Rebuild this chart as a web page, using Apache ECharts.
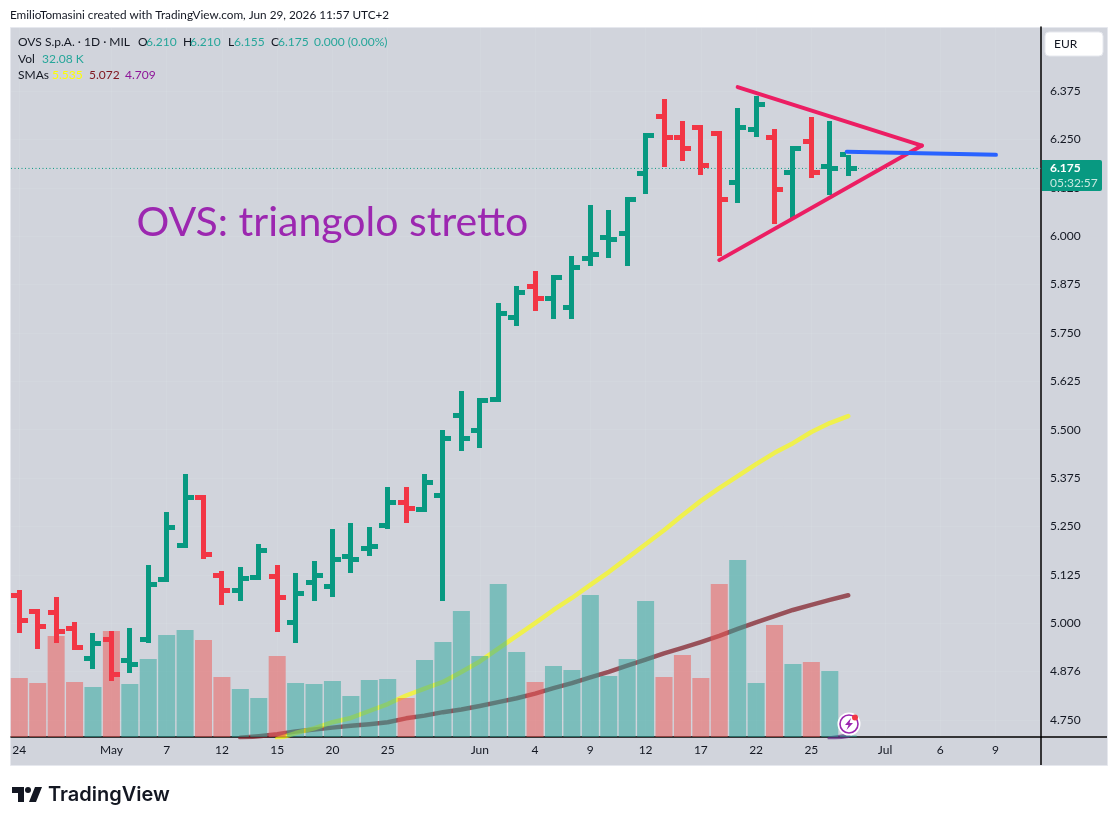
<!DOCTYPE html>
<html><head><meta charset="utf-8">
<style>html,body{margin:0;padding:0;background:#fff}#c{width:1117px;height:825px}</style>
<script src="https://cdn.jsdelivr.net/npm/echarts@6/dist/echarts.min.js"></script>
</head><body><div id="c"></div>
<script>
const opens=[5.072,5.031,5.028,4.987,4.909,4.958,4.904,4.958,5.113,5.201,5.325,5.124,5.085,5.118,5.121,5.002,5.105,5.095,5.173,5.193,5.253,5.312,5.294,5.330,5.537,5.498,5.578,5.790,5.870,5.839,5.816,5.943,5.997,6.007,6.162,6.310,6.255,6.281,6.266,6.139,6.276,6.255,6.165,6.245,6.180,6.210];
const highs=[5.086,5.037,5.067,5.003,4.975,4.980,4.987,5.150,5.287,5.385,5.331,5.135,5.145,5.204,5.150,5.130,5.160,5.243,5.259,5.248,5.352,5.352,5.385,5.499,5.600,5.582,5.827,5.871,5.910,5.900,5.949,6.080,6.068,6.101,6.266,6.354,6.298,6.287,6.272,6.331,6.362,6.277,6.233,6.308,6.298,6.210];
const lows=[4.975,4.933,4.949,4.931,4.881,4.850,4.871,4.949,5.106,5.194,5.166,5.047,5.057,5.111,4.977,4.949,5.057,5.067,5.130,5.173,5.243,5.259,5.287,5.057,5.445,5.453,5.571,5.768,5.807,5.786,5.786,5.923,5.943,5.923,6.109,6.179,6.194,6.158,5.949,6.086,6.256,6.031,6.047,6.150,6.106,6.155];
const closes=[5.007,4.992,4.979,4.938,4.948,4.868,4.894,5.100,5.248,5.325,5.178,5.085,5.116,5.188,5.067,5.077,5.124,5.165,5.165,5.198,5.312,5.297,5.364,5.478,5.478,5.576,5.801,5.855,5.839,5.894,5.919,5.953,5.992,6.095,6.261,6.255,6.227,6.183,6.095,6.281,6.341,6.121,6.227,6.165,6.175,6.175];
// volume in thousands of shares
const volumes=[1180,1080,2020,1100,1000,2120,1060,1560,2040,2140,1940,1200,960,780,1620,1080,1060,1120,820,1140,1160,780,1540,1900,2520,1620,3060,1700,1100,1420,1340,2840,1220,1560,2720,1200,1640,1180,3060,3540,1080,2240,1460,1500,1320,32.08];
// moving averages, first value at bar index given by the *Start constant
const smaYellowStart=14;
const smaYellow=[4.701,4.716,4.728,4.744,4.755,4.773,4.791,4.813,4.831,4.848,4.874,4.901,4.934,4.967,5.000,5.034,5.065,5.099,5.132,5.168,5.204,5.240,5.279,5.316,5.349,5.380,5.411,5.440,5.465,5.494,5.517,5.535];
const smaRedStart=12;
const smaRed=[4.704,4.708,4.713,4.720,4.725,4.730,4.735,4.739,4.744,4.754,4.761,4.770,4.777,4.786,4.796,4.806,4.818,4.832,4.845,4.860,4.874,4.890,4.906,4.922,4.936,4.951,4.967,4.985,5.002,5.018,5.034,5.047,5.060,5.072];
const smaPurpleStart=44;
const smaPurple=[4.702,4.709];
const xTickIndex=[0,5,8,11,14,17,20,25,28,31,34,37,40,43,47,50,53];
const xTickLabels=['24','May','7','12','15','20','25','Jun','4','9','12','17','22','25','Jul','6','9'];
const yTicks=[4.75,4.875,5,5.125,5.25,5.375,5.5,5.625,5.75,5.875,6,6.125,6.25,6.375];
const yTickLabels=['4.750','4.876','5.000','5.125','5.250','5.375','5.500','5.625','5.750','5.875','6.000','6.125','6.250','6.375'];
const triangleUpper=[[39,6.385],[49,6.234]];
const triangleLower=[[38,5.938],[49,6.234]];
const blueLine=[[44.92,6.218],[53.02,6.210]];
const lastPrice=6.175;
const annotation=[[6.36,6.035,'OVS: triangolo stretto']];

const UP='#089981',DOWN='#F23645',UI='Lato,"Noto Sans",sans-serif',INK='#131722';
const dirs=closes.map((c,i)=>i===0?-1:(c>=closes[i-1]?1:-1));
const pairs=(arr,start)=>arr.map((v,i)=>[start+i,v]);
const ohlc=closes.map((c,i)=>[i,opens[i],highs[i],lows[i],c,dirs[i]]);
const volData=volumes.map((v,i)=>({value:[i,v],itemStyle:{color:dirs[i]>0?'rgba(38,166,154,.5)':'rgba(239,83,80,.5)'}}));
const xMin=-0.4506,xMax=55.466;
const GRID='rgba(240,243,250,.1)';

function txt(x,y,text,fill,font,extra){return Object.assign({type:'text',x:x,y:y,z:30,silent:true,style:{text:text,fill:fill,font:font||('12px '+UI),textVerticalAlign:'middle'}},extra||{});}
const legendFont='12px '+UI;
const graphic=[
 {type:'rect',z:-10,silent:true,shape:{x:10.5,y:27.5,width:1097,height:738},style:{fill:'#D1D4DC',stroke:'#E6E8EE',lineWidth:1}},
 {type:'rect',z:30,silent:true,shape:{x:1045,y:32,width:58,height:24,r:4},style:{fill:'#fff',stroke:'#E6E8EE',lineWidth:1}},
 txt(1054,44,'EUR',INK),
 {type:'line',z:20,silent:true,shape:{x1:1041,y1:737,x2:1107,y2:737},style:{stroke:'#000',lineWidth:1.5}},
 {type:'line',z:20,silent:true,shape:{x1:1041,y1:737,x2:1041,y2:765},style:{stroke:'#000',lineWidth:1.5}},
 txt(10,15,'EmilioTomasini created with TradingView.com, Jun 29, 2026 11:57 UTC+2',INK,'11.75px '+UI),
 txt(18,42,'OVS S.p.A. · 1D · MIL',INK,legendFont),
 txt(138,42,'O',INK,legendFont),txt(146,42,'6.210','#26A69A',legendFont),
 txt(183,42,'H',INK,legendFont),txt(190,42,'6.210','#26A69A',legendFont),
 txt(228,42,'L',INK,legendFont),txt(234,42,'6.155','#26A69A',legendFont),
 txt(271,42,'C',INK,legendFont),txt(278,42,'6.175','#26A69A',legendFont),
 txt(314,42,'0.000 (0.00%)','#26A69A',legendFont),
 txt(18,59,'Vol',INK,legendFont),txt(42,59,'32.08 K','#26A69A',legendFont),
 txt(18,75,'SMAs',INK,legendFont),txt(52,75,'5.535','#FFFF00',legendFont),txt(89,75,'5.072','#801922',legendFont),txt(125,75,'4.709','#8E1599',legendFont),
 // TradingView mark
 {type:'polygon',z:30,silent:true,shape:{points:[[24,787],[12,787],[12,793],[18,793],[18,802],[24,802]]},style:{fill:'#131722'}},
 {type:'polygon',z:30,silent:true,shape:{points:[[36,802],[29,802],[35,787],[42,787]]},style:{fill:'#131722'}},
 {type:'circle',z:30,silent:true,shape:{cx:28,cy:790,r:3},style:{fill:'#131722'}},
 txt(48,795,'TradingView','#131722','600 20px Inter,"Noto Sans",sans-serif'),
 // bolt badge
 {type:'circle',z:31,silent:true,shape:{cx:849,cy:724,r:10.5},style:{fill:'#fff',stroke:'#fff',lineWidth:2}},
 {type:'circle',z:32,silent:true,shape:{cx:849,cy:724,r:9},style:{fill:'#fff',stroke:'#9C27B0',lineWidth:1.6}},
 {type:'polygon',z:33,silent:true,shape:{points:[[851,718],[845,725],[848.5,725],[846.5,730],[853,723],[849.5,723]]},style:{fill:'#9C27B0'}},
 {type:'circle',z:34,silent:true,shape:{cx:855,cy:717.5,r:3},style:{fill:'#F23645'}}
];

function renderBar(params,api){
 const i=api.value(0),o=api.coord([i,api.value(1)]),h=api.coord([i,api.value(2)]),l=api.coord([i,api.value(3)]),c=api.coord([i,api.value(4)]);
 const fill=api.value(5)>0?UP:DOWN;
 const x=Math.round(o[0]-2.5),w=5;
 return {type:'group',children:[
  {type:'rect',shape:{x:x,y:Math.round(h[1]),width:w,height:Math.round(l[1])-Math.round(h[1])},style:{fill:fill}},
  {type:'rect',shape:{x:x-6,y:Math.round(o[1]-2.5),width:6,height:5},style:{fill:fill}},
  {type:'rect',shape:{x:x+w,y:Math.round(c[1]-2.5),width:6,height:5},style:{fill:fill}}
 ]};
}
function renderTag(params,api){
 const p=api.coord([api.value(0),api.value(1)]);
 const top=Math.round(p[1])-8;
 return {type:'group',children:[
  {type:'rect',shape:{x:1042,y:top,width:60,height:31,r:[0,2,2,0]},style:{fill:UP}},
  {type:'text',style:{x:1050,y:top+8,text:api.value(1).toFixed(3),fill:'#fff',font:'bold 12px '+UI,textVerticalAlign:'middle'}},
  {type:'text',style:{x:1050,y:top+23,text:'05:32:57',fill:'#C8E8E0',font:'12px '+UI,textVerticalAlign:'middle'}}
 ]};
}
function renderNote(params,api){
 const p=api.coord([api.value(0),api.value(1)]);
 return {type:'text',style:{x:p[0],y:p[1],text:annotation[params.dataIndex][2],fill:'#9C27B0',font:'41px Lato,sans-serif',textVerticalAlign:'middle'}};
}
const trend=(data,color)=>({type:'line',data:data,xAxisIndex:0,yAxisIndex:0,z:6,symbol:'none',silent:true,lineStyle:{color:color,width:4,cap:'round'},clip:false,animation:false});
const sma=(data,color)=>({type:'line',data:data,xAxisIndex:0,yAxisIndex:0,z:1,symbol:'none',silent:true,lineStyle:{color:color,width:4.5,cap:'round',join:'round'},animation:false});

const chart=echarts.init(document.getElementById('c'),null,{renderer:'canvas'});
chart.setOption({
 animation:false,backgroundColor:'#fff',
 grid:{left:11,top:27,width:1030,height:710,containLabel:false},
 graphic:graphic,
 xAxis:{type:'value',min:xMin,max:xMax,
  axisLine:{show:true,onZero:false,lineStyle:{color:'#000',width:1.5}},
  axisTick:{show:false,customValues:xTickIndex},
  axisLabel:{customValues:xTickIndex,color:INK,fontSize:12,fontFamily:UI,margin:7,hideOverlap:false,showMinLabel:true,showMaxLabel:true,
   formatter:v=>{const k=xTickIndex.indexOf(Math.round(v));return k<0?'':xTickLabels[k];}},
  splitLine:{show:true,lineStyle:{color:GRID,width:1}}},
 yAxis:[
  {type:'value',position:'right',min:4.7058,max:6.5404,
   axisLine:{show:true,onZero:false,lineStyle:{color:'#000',width:1.5}},axisTick:{show:false,customValues:yTicks},
   axisLabel:{customValues:yTicks,color:INK,fontSize:12,fontFamily:UI,margin:9,showMinLabel:true,showMaxLabel:true,
    formatter:v=>{const k=yTicks.findIndex(t=>Math.abs(t-v)<1e-6);return k<0?'':yTickLabels[k];}},
   splitLine:{show:true,lineStyle:{color:GRID,width:1}}},
  {type:'value',show:false,min:0,max:14200,splitLine:{show:false}}
 ],
 series:[
  sma(pairs(smaPurple,smaPurpleStart),'rgba(100,40,130,.7)'),
  sma(pairs(smaRed,smaRedStart),'rgba(128,25,34,.7)'),
  sma(pairs(smaYellow,smaYellowStart),'rgba(255,255,0,.65)'),
  {type:'line',data:[[xMin,lastPrice],[xMax,lastPrice]],z:2,symbol:'none',silent:true,lineStyle:{color:UP,width:1,type:[1,2.5]},animation:false},
  {type:'bar',data:volData,xAxisIndex:0,yAxisIndex:1,barWidth:17,z:3,silent:true,animation:false},
  {type:'custom',data:ohlc,xAxisIndex:0,yAxisIndex:0,z:4,silent:true,dimensions:['i','o','h','l','c','d'],encode:{x:0,y:[1,2,3,4]},renderItem:renderBar,animation:false},
  trend(triangleUpper,'#EC1E63'),
  trend(triangleLower,'#EC1E63'),
  trend(blueLine,'#2962FF'),
  {type:'custom',data:annotation.map(a=>[a[0],a[1]]),z:7,silent:true,encode:{x:0,y:1},renderItem:renderNote,clip:false,animation:false},
  {type:'custom',data:[[xMax,lastPrice]],z:8,silent:true,encode:{x:0,y:1},renderItem:renderTag,clip:false,animation:false}
 ]
});
</script></body></html>
